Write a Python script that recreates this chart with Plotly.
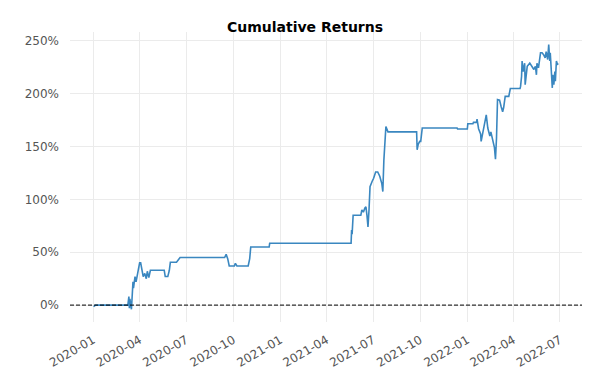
import plotly.graph_objects as go

dates = [
    "2020-01-02", "2020-01-06", "2020-03-09", "2020-03-11", "2020-03-12", "2020-03-13",
    "2020-03-16", "2020-03-17", "2020-03-19", "2020-03-20", "2020-03-23", "2020-03-25",
    "2020-03-27", "2020-03-30", "2020-04-01", "2020-04-03", "2020-04-06", "2020-04-08",
    "2020-04-11", "2020-04-14", "2020-04-16", "2020-04-19", "2020-04-22", "2020-05-19",
    "2020-05-21", "2020-05-26", "2020-05-29", "2020-05-31", "2020-06-12", "2020-06-15",
    "2020-06-19", "2020-09-14", "2020-09-17", "2020-09-20", "2020-09-23", "2020-10-03",
    "2020-10-05", "2020-10-08", "2020-10-30", "2020-11-02", "2020-11-04", "2020-12-10",
    "2020-12-11", "2021-05-19", "2021-05-20", "2021-05-21", "2021-05-23", "2021-06-07",
    "2021-06-09", "2021-06-12", "2021-06-15", "2021-06-17", "2021-06-19", "2021-06-21",
    "2021-06-23", "2021-06-25", "2021-06-29", "2021-07-02", "2021-07-06", "2021-07-10",
    "2021-07-14", "2021-07-18", "2021-07-20", "2021-07-22", "2021-07-26", "2021-07-30",
    "2021-09-24", "2021-09-25", "2021-09-27", "2021-09-30", "2021-10-02", "2021-10-03",
    "2021-10-05", "2021-12-12", "2021-12-13", "2022-01-01", "2022-01-02", "2022-01-12",
    "2022-01-13", "2022-01-19", "2022-01-20", "2022-01-23", "2022-01-27", "2022-01-28",
    "2022-02-01", "2022-02-03", "2022-02-07", "2022-02-10", "2022-02-14", "2022-02-16",
    "2022-02-20", "2022-02-23", "2022-02-25", "2022-02-27", "2022-03-01", "2022-03-05",
    "2022-03-08", "2022-03-11", "2022-03-13", "2022-03-16", "2022-03-23", "2022-03-24",
    "2022-03-26", "2022-04-14", "2022-04-15", "2022-04-17", "2022-04-18", "2022-04-20",
    "2022-04-23", "2022-04-24", "2022-04-28", "2022-05-03", "2022-05-07", "2022-05-11",
    "2022-05-14", "2022-05-16", "2022-05-17", "2022-05-20", "2022-05-24", "2022-05-27",
    "2022-05-30", "2022-06-02", "2022-06-04", "2022-06-07", "2022-06-09", "2022-06-11",
    "2022-06-12", "2022-06-16", "2022-06-17", "2022-06-19", "2022-06-21", "2022-06-22",
    "2022-06-24", "2022-06-26", "2022-06-28",
]

cum_returns_pct = [
    -1.5, 0.0, 0.0, 8.0, -3.0, 6.0,
    -4.0, 12.0, 22.0, 16.0, 27.0, 22.0,
    28.0, 33.0, 40.0, 40.0, 34.0, 27.0,
    30.0, 25.0, 32.0, 26.0, 33.0, 33.0,
    27.0, 27.0, 33.0, 40.5, 40.5, 43.0,
    45.0, 45.0, 48.0, 44.0, 37.0, 37.0,
    39.5, 37.0, 37.0, 44.0, 55.0, 55.0,
    58.5, 58.5, 71.0, 67.0, 85.0, 85.0,
    90.0, 88.0, 92.0, 93.0, 85.0, 74.0,
    90.0, 112.0, 117.0, 120.0, 126.0, 126.0,
    122.0, 115.0, 107.5, 137.0, 169.0, 164.0,
    164.0, 147.0, 152.0, 155.0, 155.0, 158.0,
    167.6, 167.6, 166.7, 166.7, 171.7, 171.7,
    173.0, 173.0, 176.0, 167.0, 162.0, 155.0,
    164.0, 167.6, 180.0, 167.6, 160.0, 164.0,
    155.0, 149.0, 138.0, 158.0, 194.5, 194.0,
    188.0, 183.0, 187.0, 197.6, 197.6, 200.8,
    205.0, 205.0, 207.0, 216.6, 231.0, 221.0,
    229.0, 208.7, 226.0, 229.0, 226.0, 223.0,
    226.0, 218.0, 229.0, 224.6, 238.8, 238.8,
    237.0, 234.0, 240.0, 232.4, 246.7, 231.0,
    238.8, 205.6, 218.0, 208.7, 221.0, 212.0,
    231.0, 228.0, 228.6,
]

title_text = "Cumulative Returns"

fig = go.Figure()
fig.add_trace(go.Scatter(
    x=dates, y=cum_returns_pct, mode="lines",
    line=dict(color="#3a87c0", width=1.6),
    showlegend=False,
))

fig.add_shape(type="line", xref="paper", yref="y", x0=0, x1=1, y0=0, y1=0,
              line=dict(color="black", width=1, dash="4px,2px"))

fig.update_layout(
    width=592, height=380,
    margin=dict(l=62, r=18, t=24, b=66),
    paper_bgcolor="white", plot_bgcolor="white",
    font=dict(family="DejaVu Sans", size=12, color="#555555"),
    title=dict(text="<b>" + title_text + "</b>", x=0.5017, xanchor="center",
               y=1 - 19 / 380, yanchor="middle",
               font=dict(family="DejaVu Sans", size=14, color="black")),
)

fig.update_xaxes(
    type="date", range=["2019-11-17", "2022-08-13"],
    tick0="2020-01-01", dtick="M3", tickformat="%Y-%m", tickangle=-30,
    showgrid=True, gridcolor="#ebebeb", gridwidth=1,
    showline=False, zeroline=False, ticks="", ticklabelstandoff=8,
)
fig.update_yaxes(
    range=[-16, 258.5], tick0=0, dtick=50, ticksuffix="%",
    showgrid=True, gridcolor="#ebebeb", gridwidth=1,
    showline=False, zeroline=False, ticks="", ticklabelstandoff=10,
)

fig.write_html("out.html")
